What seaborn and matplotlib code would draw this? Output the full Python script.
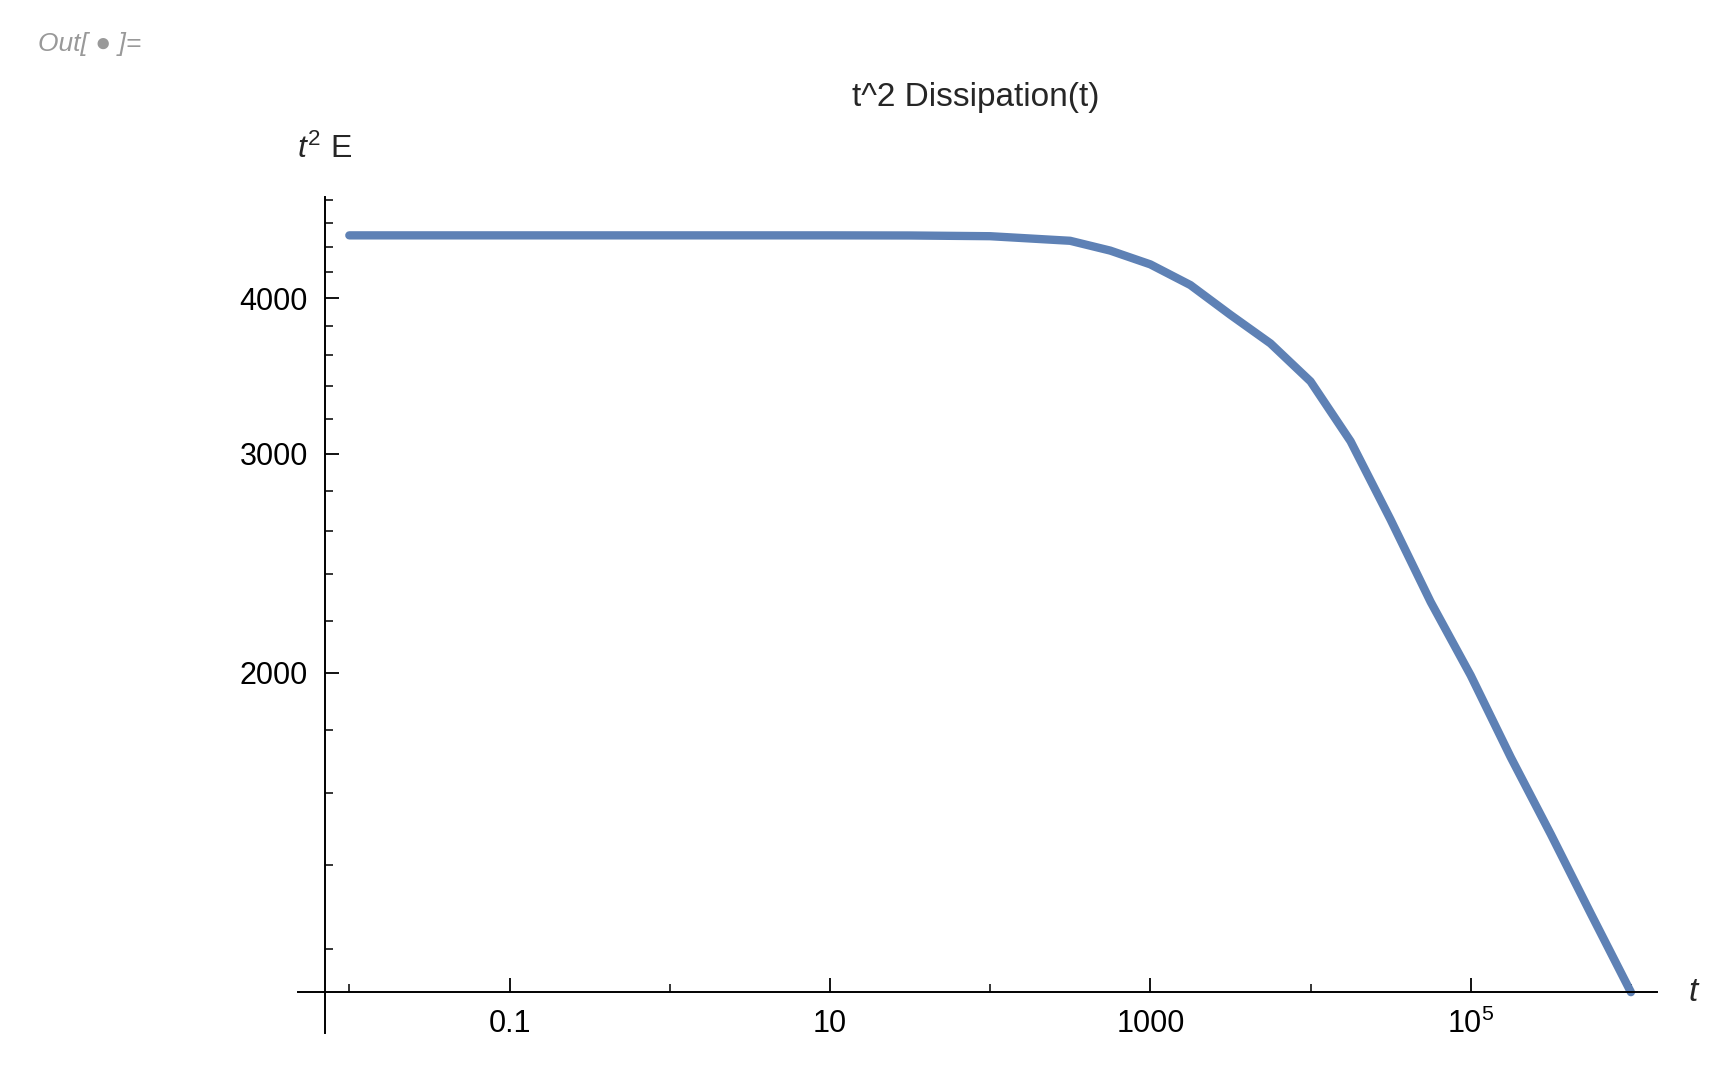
import matplotlib
matplotlib.use("Agg")
import matplotlib.pyplot as plt
import matplotlib.ticker as mticker
import seaborn as sns
import pandas as pd

t_vals = [0.01, 0.1, 1, 10, 31.6, 100, 316, 562, 1000, 1778, 3162, 5623, 10000,
          17783, 31623, 56234, 100000, 177828, 316228, 562341, 1000000]
e_vals = [4495, 4495, 4495, 4495, 4494, 4488, 4450, 4370, 4260, 4100, 3880, 3680, 3430,
          3070, 2655, 2280, 1990, 1710, 1483, 1280, 1107]
x_ticks = [0.1, 10, 1000, 100000]
x_labels = ["0.1", "10", "1000", "$10^5$"]
y_ticks = [2000, 3000, 4000]
y_labels = ["2000", "3000", "4000"]

sns.set_style("white")
plt.rcParams['font.family'] = ['Liberation Sans', 'DejaVu Sans']
plt.rcParams['mathtext.fontset'] = 'custom'
plt.rcParams['mathtext.rm'] = 'Liberation Sans'
plt.rcParams['mathtext.it'] = 'Liberation Sans:italic'

fig = plt.figure(figsize=(17.24, 10.74), dpi=100)
ax = fig.add_axes([0.173, 0.038, 0.788, 0.779])
df = pd.DataFrame({"t": t_vals, "E": e_vals})
sns.lineplot(data=df, x="t", y="E", ax=ax, color="#5E81B5", linewidth=6)
ax.set_xscale("log")
ax.set_yscale("log")
ax.set_xlim(0.0048, 1.45e6)
ax.set_ylim(1026, 4830)
ax.spines['top'].set_visible(False)
ax.spines['right'].set_visible(False)
ax.spines['left'].set_position(('data', 0.007))
ax.spines['bottom'].set_position(('data', 1107))
for s in ('left', 'bottom'):
    ax.spines[s].set_linewidth(1.4)
    ax.spines[s].set_color('black')
ax.set_xticks(x_ticks)
ax.set_xticklabels(x_labels)
ax.xaxis.set_minor_locator(mticker.FixedLocator([0.01, 1, 100, 10000, 1000000]))
ax.xaxis.set_minor_formatter(mticker.NullFormatter())
ax.set_yticks(y_ticks)
ax.set_yticklabels(y_labels)
ax.yaxis.set_minor_locator(mticker.FixedLocator(
    [1200, 1400, 1600, 1800, 2200, 2400, 2600, 2800, 3200, 3400, 3600, 3800, 4200, 4400, 4600, 4800]))
ax.yaxis.set_minor_formatter(mticker.NullFormatter())
ax.tick_params(axis='both', which='both', bottom=True, left=True, top=False, right=False)
ax.tick_params(axis='both', which='major', direction='in', length=10, width=1.3, labelsize=22, pad=12, color='black', labelcolor='black')
ax.tick_params(axis='both', which='minor', direction='in', length=6, width=1.1, color='black')
ax.set_xlabel("")
ax.set_ylabel("")
fig.text(0.566, 0.909, "t^2 Dissipation(t)", fontsize=24, ha='center', va='center')
fig.text(0.172, 0.861, "$\\it{t}^2$ E", fontsize=23, ha='left', va='center')
fig.text(0.982, 0.076, "t", fontsize=24, style='italic', ha='center', va='center')
fig.text(0.022, 0.959, "Out[ \u25cf ]=", fontsize=19, style='italic', color='#999999', ha='left', va='center')
fig.savefig("out.png", dpi=100)
